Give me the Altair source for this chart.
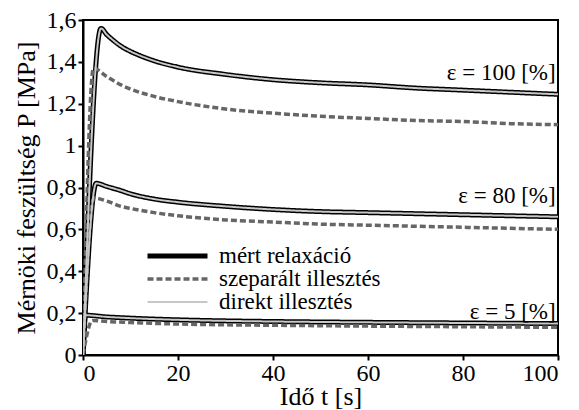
import altair as alt
import pandas as pd

SERIES = ["mért relaxáció", "szeparált illesztés", "direkt illesztés"]

# eps = 100 %
t100_m = [0, 3.8, 5, 6, 8, 10, 12, 15, 20, 30, 40, 50, 60, 70, 80, 90, 100]
p100_m = [0, 1.56, 1.53, 1.51, 1.475, 1.45, 1.43, 1.405, 1.375, 1.34, 1.315, 1.30, 1.29, 1.275, 1.265, 1.255, 1.245]
t100_s = [0, 2.2, 5, 8, 10, 15, 20, 30, 40, 50, 60, 70, 80, 90, 100]
p100_s = [0, 1.37, 1.33, 1.29, 1.27, 1.235, 1.21, 1.175, 1.155, 1.14, 1.13, 1.12, 1.115, 1.105, 1.10]
# eps = 80 %
t80_m = [0, 2.8, 5, 8, 10, 15, 20, 30, 40, 50, 60, 70, 80, 90, 100]
p80_m = [0, 0.82, 0.805, 0.785, 0.77, 0.745, 0.73, 0.71, 0.695, 0.685, 0.68, 0.675, 0.67, 0.665, 0.66]
t80_s = [0, 2.3, 5, 8, 10, 15, 20, 30, 40, 50, 60, 70, 80, 90, 100]
p80_s = [0, 0.75, 0.735, 0.71, 0.70, 0.68, 0.665, 0.645, 0.635, 0.625, 0.62, 0.615, 0.61, 0.605, 0.60]
# eps = 5 %
t5_m = [0, 0.5, 5, 10, 20, 30, 40, 60, 80, 100]
p5_m = [0, 0.19, 0.182, 0.176, 0.168, 0.163, 0.16, 0.156, 0.153, 0.15]
t5_s = [0, 2.0, 5, 10, 20, 40, 60, 80, 100]
p5_s = [0, 0.165, 0.16, 0.155, 0.148, 0.142, 0.138, 0.135, 0.132]

labels_text = ["ε = 100 [%]", "ε = 80 [%]", "ε = 5 [%]"]
labels_t = [99.5, 99.5, 99.5]
labels_p = [1.345, 0.76, 0.205]

rows = []
def add(series, eps, ts, ps):
    for t, p in zip(ts, ps):
        rows.append({"series": series, "eps": eps, "t": t, "p": p})

add(SERIES[0], 100, t100_m, p100_m)
add(SERIES[0], 80, t80_m, p80_m)
add(SERIES[0], 5, t5_m, p5_m)
add(SERIES[1], 100, t100_s, p100_s)
add(SERIES[1], 80, t80_s, p80_s)
add(SERIES[1], 5, t5_s, p5_s)
# direct fit follows the measured curves
add(SERIES[2], 100, t100_m, p100_m)
add(SERIES[2], 80, t80_m, p80_m)
add(SERIES[2], 5, t5_m, p5_m)
df = pd.DataFrame(rows)

lab_df = pd.DataFrame({"txt": labels_text, "t": labels_t, "p": labels_p})

FONT = "Liberation Serif"

x = alt.X("t:Q", scale=alt.Scale(domain=[0, 100], nice=False),
          axis=alt.Axis(values=[0, 20, 40, 60, 80, 100], title="Idő t [s]",
                        grid=False, tickSize=5, labelPadding=1, titlePadding=-2))
y = alt.Y("p:Q", scale=alt.Scale(domain=[0, 1.6], nice=False),
          axis=alt.Axis(values=[0, 0.2, 0.4, 0.6, 0.8, 1.0, 1.2, 1.4, 1.6],
                        title="Mérnöki feszültség P [MPa]", grid=False, tickSize=5,
                        labelExpr="replace(format(datum.value, ''), '.', ',')",
                        labelPadding=2, titlePadding=7))

color = alt.Color("series:N", scale=alt.Scale(domain=SERIES, range=["#000000", "#666666", "#c8c8c8"]),
                  legend=alt.Legend(title=None, orient="none", legendX=62, legendY=225,
                                    symbolType="stroke", symbolSize=3600, clipHeight=22,
                                    labelFont=FONT, labelFontSize=23, labelColor="black",
                                    labelLimit=400, rowPadding=0, labelOffset=9))
dash = alt.StrokeDash("series:N", scale=alt.Scale(domain=SERIES, range=[[1, 0], [6, 3], [1, 0]]), legend=None)
sw = alt.StrokeWidth("series:N", scale=alt.Scale(domain=SERIES, range=[5, 2, 1.5]), legend=None)

def layer(s):
    return alt.Chart(df).transform_filter(alt.datum.series == s).mark_line(
        clip=True, interpolate="monotone").encode(
        x=x, y=y, color=color, strokeDash=dash, strokeWidth=sw, detail="eps:N",
        order="t:Q")

text = alt.Chart(lab_df).mark_text(align="right", baseline="middle", font=FONT,
                                   fontSize=23, color="black").encode(
    x="t:Q", y="p:Q", text="txt:N")

chart = alt.layer(layer(SERIES[0]), layer(SERIES[1]), layer(SERIES[2]), text).properties(
    width=475, height=335,
    autosize=alt.AutoSizeParams(type="none"),
    padding={"left": 75, "top": 12, "right": 10, "bottom": 62},
).configure(font=FONT, background="white").configure_view(
    stroke="black", strokeWidth=2).configure_axis(
    domainColor="black", domainWidth=2, tickColor="black", tickWidth=2,
    labelFont=FONT, labelFontSize=24, labelColor="black",
    titleFont=FONT, titleFontSize=26, titleColor="black", titleFontWeight="normal"
).configure_legend(labelFont=FONT, labelFontSize=23, labelColor="black", labelLimit=400
).configure_text(font=FONT)

chart.save("out.html", embed_options={"renderer": "svg", "actions": False})
